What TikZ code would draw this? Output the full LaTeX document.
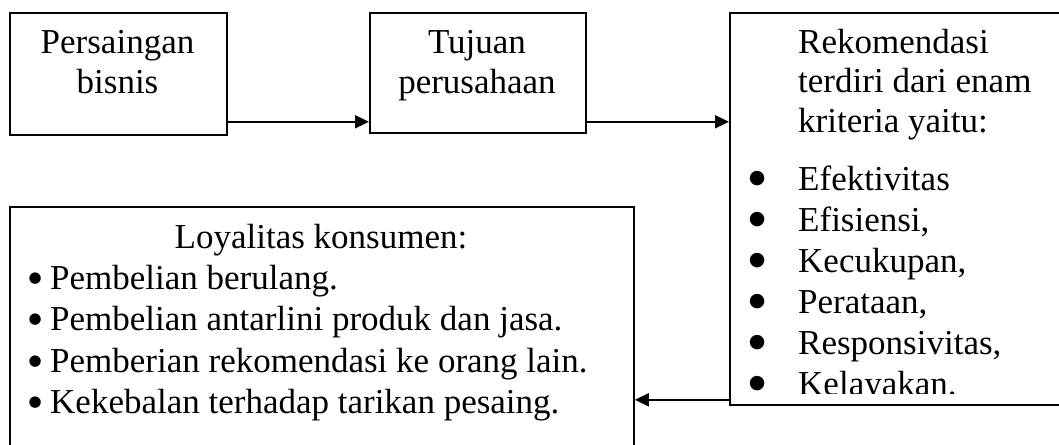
\documentclass[tikz,border=0pt]{standalone}
\usepackage{fontspec}
\setmainfont{Liberation Serif}
\newfontfamily\symfont{DejaVu Sans}
\usetikzlibrary{arrows.meta}
\newcommand\bulbig{\raisebox{7pt}{\symfont\fontsize{19}{19}\selectfont ●}}
\newcommand\bulsmall{\raisebox{7pt}{\symfont\fontsize{15}{15}\selectfont ●}}
\newcommand\bitem[1]{\makebox[14pt][c]{\bulsmall}\hspace{8pt}#1}
\newcommand\citem[1]{\makebox[20pt][c]{\bulbig}\hspace{31pt}#1}
\tikzset{
  box/.style={draw=black, line width=1.8pt, anchor=north west, inner sep=0pt},
  arr/.style={line width=1.6pt, -{Triangle[length=14pt,width=13pt]}},
  txt/.style={inner sep=0pt, font=\fontsize{35}{40}\selectfont},
}
\begin{document}
\begin{tikzpicture}[x=1pt,y=-1pt]
\clip (0,0) rectangle (1059,444);
\fill[white] (0,0) rectangle (1059,444);
% boxes
\node[box, minimum width=217pt, minimum height=122pt] (b1) at (9,12) {};
\node[box, minimum width=216pt, minimum height=120pt] (b2) at (369,12) {};
\node[box, minimum width=340pt, minimum height=392pt] (b3) at (729,12) {};
\node[box, minimum width=624pt, minimum height=260pt] (b4) at (9,206) {};
% box 1 text
\node[txt, anchor=base] (t1a) at (117.5,54) {Persaingan};
\node[txt, anchor=base] (t1b) at (117.5,93) {bisnis};
% box 2 text
\node[txt, anchor=base] (t2a) at (477,54) {Tujuan};
\node[txt, anchor=base] (t2b) at (477,93) {perusahaan};
% box 3 text
\node[txt, anchor=base west] (t3a) at (798,53) {Rekomendasi};
\node[txt, anchor=base west] (t3b) at (798,92) {terdiri dari enam};
\node[txt, anchor=base west] (t3c) at (798,132) {kriteria yaitu:};
\begin{scope}
\clip (729,12) rectangle (1059,393);
\node[txt, anchor=base west] (l1) at (747,190) {\citem{Efektivitas}};
\node[txt, anchor=base west] (l2) at (747,231) {\citem{Efisiensi,}};
\node[txt, anchor=base west] (l3) at (747,272) {\citem{Kecukupan,}};
\node[txt, anchor=base west] (l4) at (747,313) {\citem{Perataan,}};
\node[txt, anchor=base west] (l5) at (747,354) {\citem{Responsivitas,}};
\node[txt, anchor=base west] (l6) at (747,395) {\citem{Kelayakan.}};
\end{scope}
% box 4 text
\node[txt, anchor=base] (t4) at (321,248) {Loyalitas konsumen:};
\node[txt, anchor=base west] (k1) at (28,289) {\bitem{Pembelian berulang.}};
\node[txt, anchor=base west] (k2) at (28,330) {\bitem{Pembelian antarlini produk dan jasa.}};
\node[txt, anchor=base west] (k3) at (28,372) {\bitem{Pemberian rekomendasi ke orang lain.}};
\node[txt, anchor=base west] (k4) at (28,413) {\bitem{Kekebalan terhadap tarikan pesaing.}};
% connectors
\draw[arr] ([yshift=14pt]b1.south east) -- ([yshift=14pt]b1.south east -| b2.west);
\draw[arr] ([yshift=12pt]b2.south east) -- ([yshift=12pt]b2.south east -| b3.west);
\draw[arr] ([yshift=6pt]b3.south west) -- ([yshift=6pt]b3.south west -| b4.east);
\end{tikzpicture}
\end{document}
